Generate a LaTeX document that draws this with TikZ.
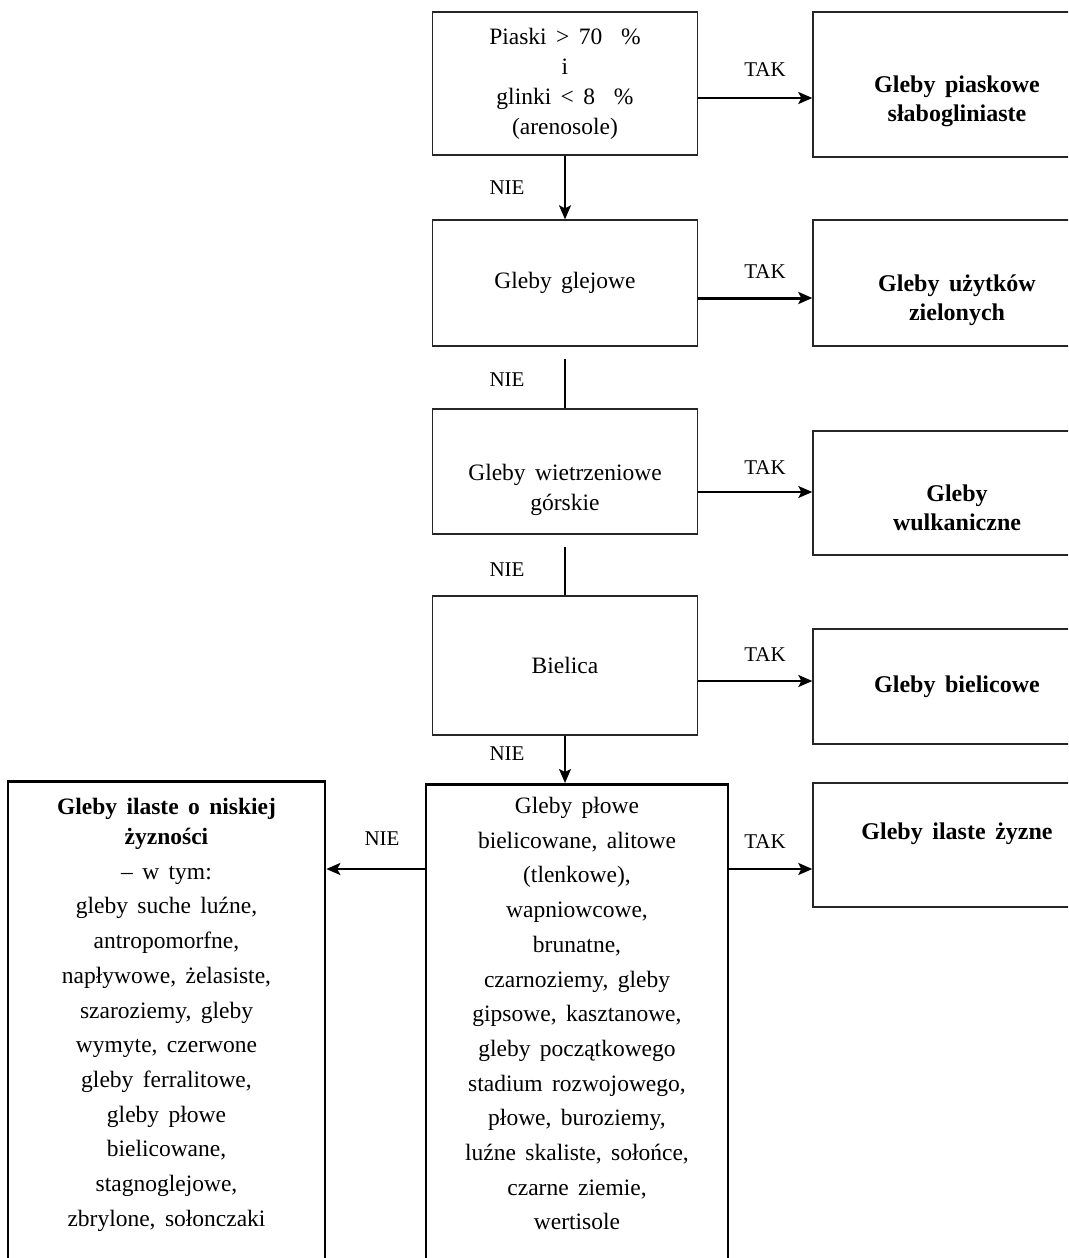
\documentclass[tikz,border=0pt]{standalone}
\usepackage{fontspec}
\setmainfont{Liberation Serif}
\usetikzlibrary{arrows.meta}
\newcommand{\soilfont}[2]{\fontsize{#1}{#2}\selectfont\spaceskip=0.4em plus 0.1em minus 0.05em\relax}
\newcommand{\lift}[1]{\rule{0pt}{#1}}

\begin{document}
\begin{tikzpicture}[x=1pt,y=-1pt,
    askbox/.style={draw=black!85,line width=1.4pt,minimum width=265pt,
                   minimum height=143pt,align=center,font=\soilfont{23.5}{30}},
    endbox/.style={draw=black!85,line width=1.4pt,minimum width=288pt,
                   minimum height=125pt,align=center,font=\soilfont{24}{29}\bfseries},
    bigbox/.style={draw=black,line width=2.6pt,inner sep=0pt},
    listtext/.style={align=center,anchor=north,inner sep=0pt,font=\soilfont{23.5}{34.7}},
    answer/.style={font=\soilfont{21}{25}},
    flow/.style={line width=1.6pt,-{Stealth[length=14pt,width=12pt,inset=3pt]}},
    plain/.style={line width=1.6pt}
  ]
  \useasboundingbox (0,0) rectangle (1068,1258);
  \clip (0,0) rectangle (1068,1258);

  % questions (middle column)
  \node[askbox] (piaski) at (565,83.5)
    {Piaski > 70 \ \%\\ i\\ glinki < 8 \ \%\\ (arenosole)};
  \node[askbox,minimum height=126pt] (glejowe) at (565,283) {Gleby glejowe};
  \node[askbox,minimum height=125pt] (gorskie) at (565,471.5)
    {\lift{54pt}Gleby wietrzeniowe\\ górskie};
  \node[askbox,minimum height=139pt] (bielica) at (565,665.5) {Bielica};

  % answers (right column, cut by the page edge)
  \node[endbox,minimum height=145pt] (piaskowe) at (957,84.5)
    {\lift{50pt}Gleby piaskowe\\ słabogliniaste};
  \node[endbox,minimum height=126pt] (zielone) at (957,283)
    {\lift{51pt}Gleby użytków\\ zielonych};
  \node[endbox,minimum height=124pt] (wulkan) at (957,493)
    {\lift{47pt}Gleby\\ wulkaniczne};
  \node[endbox,minimum height=115pt] (bielicowe) at (957,686.5) {Gleby bielicowe};
  \node[endbox,minimum height=124pt,text depth=27pt] (zyzne) at (957,845) {Gleby ilaste żyzne};

  % bottom boxes (open at the page bottom)
  \node[bigbox,minimum width=302pt,minimum height=520pt,anchor=north] (plowe) at (577,783) {};
  \node[listtext] (plowetxt) at (577,797)
    {Gleby płowe\\ bielicowane, alitowe\\ (tlenkowe),\\ wapniowcowe,\\ brunatne,\\
     czarnoziemy, gleby\\ gipsowe, kasztanowe,\\ gleby początkowego\\
     stadium rozwojowego,\\ płowe, buroziemy,\\ luźne skaliste, sołońce,\\
     czarne ziemie,\\ wertisole};
  \node[bigbox,minimum width=317pt,minimum height=520pt,anchor=north] (niskie) at (166.5,780) {};
  \node[listtext] (niskietxt) at (166.5,798)
    {\textbf{Gleby ilaste o niskiej}\\[-4.7pt] \textbf{żyzności}\\ – w tym:\\
     gleby suche luźne,\\ antropomorfne,\\ napływowe, żelasiste,\\
     szaroziemy, gleby\\ wymyte, czerwone\\ gleby ferralitowe,\\
     gleby płowe\\ bielicowane,\\ stagnoglejowe,\\ zbrylone, sołonczaki};

  % NIE connectors
  \draw[flow] (piaski.south) -- (glejowe.north);
  \draw[plain] ([yshift=-12pt]glejowe.south) -- (gorskie.north);
  \draw[plain] ([yshift=-12pt]gorskie.south) -- (bielica.north);
  \draw[flow] (bielica.south) -- (bielica.south |- plowe.north);
  \draw[flow,line width=2.4pt] (plowe.west |- 0,869) -- (niskie.east |- 0,869);
  \node[answer] (nie1) at (507,188) {NIE};
  \node[answer] (nie2) at (507,380) {NIE};
  \node[answer] (nie3) at (507,570) {NIE};
  \node[answer] (nie4) at (507,754) {NIE};
  \node[answer] (nie5) at (382,839) {NIE};

  % TAK connectors
  \draw[flow,line width=2pt] (piaski.east |- 0,98) -- (piaskowe.west |- 0,98);
  \draw[flow,line width=3pt] (glejowe.east |- 0,298) -- (zielone.west |- 0,298);
  \draw[flow] (gorskie.east |- 0,492) -- (wulkan.west |- 0,492);
  \draw[flow] (bielica.east |- 0,681) -- (bielicowe.west |- 0,681);
  \draw[flow,line width=2.4pt] (plowe.east |- 0,869) -- (zyzne.west |- 0,869);
  \node[answer] (tak1) at (765,70) {TAK};
  \node[answer] (tak2) at (765,272) {TAK};
  \node[answer] (tak3) at (765,468) {TAK};
  \node[answer] (tak4) at (765,655) {TAK};
  \node[answer] (tak5) at (765,842) {TAK};
\end{tikzpicture}
\end{document}
